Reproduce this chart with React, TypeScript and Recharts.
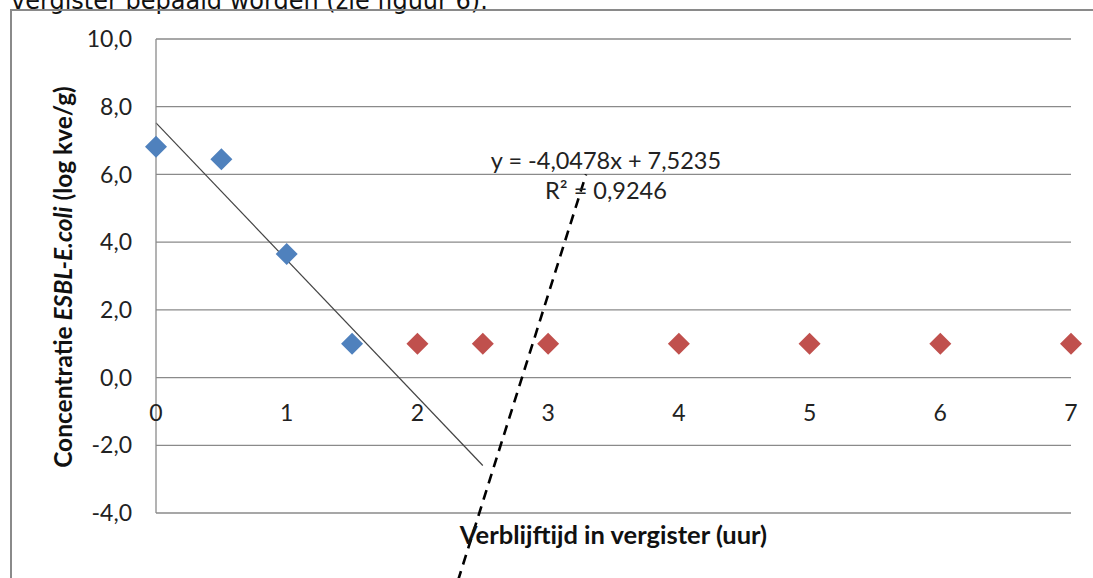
import React from 'react';
import { ScatterChart, Scatter, XAxis, YAxis, CartesianGrid, ReferenceLine, ReferenceDot } from 'recharts';

const blueTimes = [0, 0.5, 1, 1.5];
const blueConc = [6.82, 6.45, 3.65, 1.0];
const redTimes = [2, 2.5, 3, 4, 5, 6, 7];
const redConc = [1.0, 1.0, 1.0, 1.0, 1.0, 1.0, 1.0];

const xTicks = [0, 1, 2, 3, 4, 5, 6, 7];
const yTicks = [-4, -2, 0, 2, 4, 6, 8, 10];

// linear trend through the blue points, as printed on the chart
const trendSlope = -4.0478;
const trendIntercept = 7.5235;
const trendRange = [0, 2.5];
const trendLabel = 'y = -4,0478x + 7,5235';
const r2Label = 'R² = 0,9246';

// hand drawn dashed line (start / end points)
const dashX = [2.31, 3.29];
const dashY = [-6.0, 6.0];

const blueData = blueTimes.map((t, i) => ({ x: t, y: blueConc[i] }));
const redData = redTimes.map((t, i) => ({ x: t, y: redConc[i] }));
const trendSegment = trendRange.map(x => ({ x, y: trendIntercept + trendSlope * x }));
const dashSegment = dashX.map((x, i) => ({ x, y: dashY[i] }));

const FONT = 'Lato, "Open Sans", sans-serif';
const GRID = '#8a8a8a';

const diamond = (fill: string) => (props: any) => {
  const { cx, cy } = props;
  const h = 11;
  return <polygon points={`${cx},${cy - h} ${cx + h},${cy} ${cx},${cy + h} ${cx - h},${cy}`} fill={fill} />;
};

// x tick labels sit just under the y=0 line, not at the bottom of the plot
const XTick = (props: any) => {
  const { x, y, payload } = props;
  return (
    <text x={x} y={y - 107} textAnchor="middle" dominantBaseline="central" fill="#222" fontSize={23} fontFamily={FONT}>
      {payload.value}
    </text>
  );
};

const YLabel = (props: any) => {
  const vb = props.viewBox || { x: 0 };
  const cx = vb.x + 62;
  const cy = 277;
  return (
    <text x={cx} y={cy} transform={`rotate(-90 ${cx} ${cy})`} textAnchor="middle" dominantBaseline="central"
      fill="#111" fontSize={24.5} fontWeight={700} fontFamily={FONT}>
      Concentratie <tspan fontStyle="italic">ESBL-E.coli</tspan> (log kve/g)
    </text>
  );
};

const EquationLabel = (props: any) => {
  const { x, y } = props.viewBox;
  return (
    <g fontFamily={FONT} fontSize={23.5} fill="#222" textAnchor="middle">
      <text x={x} y={y - 15} dominantBaseline="central">{trendLabel}</text>
      <text x={x} y={y + 15} dominantBaseline="central">{r2Label}</text>
    </g>
  );
};

export default function App() {
  return (
    <div style={{ position: 'absolute', left: 0, top: 0, width: 1093, height: 578, overflow: 'hidden', background: '#fff' }}>
      <div style={{ position: 'absolute', left: 11, top: -13, fontFamily: '"DejaVu Sans", Verdana, sans-serif', fontSize: 24, color: '#111', whiteSpace: 'nowrap' }}>
        vergister bepaald worden (zie figuur 6).
      </div>
      <div style={{ position: 'absolute', left: 10, top: 9, width: 1200, height: 700, borderLeft: '2px solid #8a8a8a', borderTop: '2px solid #8a8a8a' }} />
      <div style={{ position: 'absolute', left: 0, top: 0 }}>
        <ScatterChart width={1093} height={578} margin={{ top: 39, right: 22, bottom: 0, left: 0 }}>
          <CartesianGrid horizontal vertical={false} stroke={GRID} strokeWidth={1.3} />
          <XAxis type="number" dataKey="x" domain={[0, 7]} ticks={xTicks} height={65}
            axisLine={false} tickLine={false} tickMargin={0} tick={<XTick />}
            label={{ value: 'Verblijftijd in vergister (uur)', position: 'insideTop', offset: 13, fill: '#111', fontSize: 25.5, fontWeight: 700, fontFamily: FONT }} />
          <YAxis type="number" dataKey="y" domain={[-4, 10]} ticks={yTicks} width={156}
            axisLine={{ stroke: GRID, strokeWidth: 1.3 }} tickLine={false} tickMargin={18}
            tick={{ fill: '#222', fontSize: 23, fontFamily: FONT }}
            tickFormatter={(v: number) => v.toFixed(1).replace('.', ',')}
            label={<YLabel />} />
          <ReferenceLine segment={trendSegment} stroke="#444" strokeWidth={1.2} ifOverflow="visible" />
          <ReferenceLine segment={dashSegment} stroke="#000" strokeWidth={2.6} strokeDasharray="10 7" ifOverflow="visible" />
          <ReferenceDot x={3.45} y={5.95} r={1} fill="none" stroke="none" ifOverflow="visible" label={<EquationLabel />} />
          <Scatter data={blueData} fill="#4F81BD" shape={diamond('#4F81BD')} isAnimationActive={false} />
          <Scatter data={redData} fill="#C0504D" shape={diamond('#C0504D')} isAnimationActive={false} />
        </ScatterChart>
      </div>
    </div>
  );
}
